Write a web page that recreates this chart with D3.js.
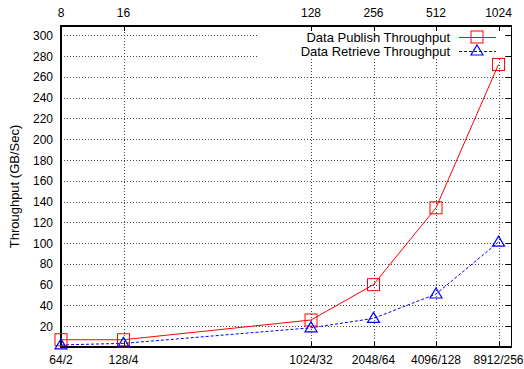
<!DOCTYPE html>
<html>
<head>
<meta charset="utf-8">
<script src="https://cdn.jsdelivr.net/npm/d3@7"></script>
<style>
	body { margin: 0; background: #fff; }
	text { font-family: "Liberation Sans", Arial, sans-serif; }
</style>
</head>
<body>
<div id="chart"></div>
<script>
// chart values
const topTicks = [8, 16, 128, 256, 512, 1024]
const bottomLabels = ["64/2", "128/4", "1024/32", "2048/64", "4096/128", "8912/256"]
const yTicks = [20, 40, 60, 80, 100, 120, 140, 160, 180, 200, 220, 240, 260, 280, 300]
const publish = [7, 7, 26, 60, 134, 272]
const retrieve = [2, 3.5, 18.5, 27.5, 51, 101]
const seriesNames = ["Data Publish Throughput", "Data Retrieve Throughput"]

const params = {
	width: 524, height: 369,
	left: 61, right: 511, top: 26, bottom: 347
}

const makeContainer = (params) => {
	return d3.select("#chart")
		.append("svg")
		.attr("width", params.width)
		.attr("height", params.height)
}

const makeScales = (params) => {
	const xScale = d3.scaleLog().base(2)
		.domain([8, 1176])
		.range([params.left, params.right])
	const yScale = d3.scaleLinear()
		.domain([0, 309])
		.range([params.bottom, params.top])
	return [xScale, yScale]
}

const addGrid = (svg, xScale, yScale, params) => {
	const grid = svg.append("g")
		.attr("stroke", "#444")
		.attr("stroke-width", 1)
		.attr("stroke-dasharray", "1,2")

	grid.selectAll(".hg")
		.data(yTicks)
		.join("line")
		.attr("x1", params.left)
		.attr("x2", params.right)
		.attr("y1", d => Math.round(yScale(d)) + 0.5)
		.attr("y2", d => Math.round(yScale(d)) + 0.5)

	grid.selectAll(".vg")
		.data(topTicks.slice(1))
		.join("line")
		.attr("x1", d => Math.round(xScale(d)) + 0.5)
		.attr("x2", d => Math.round(xScale(d)) + 0.5)
		.attr("y1", params.top)
		.attr("y2", params.bottom)

	// key area hides the grid
	svg.append("rect")
		.attr("x", 258)
		.attr("y", params.top + 1)
		.attr("width", 247)
		.attr("height", 31)
		.attr("fill", "#fff")
}

const addAxes = (svg, xScale, yScale, params) => {
	const ticks = svg.append("g").attr("stroke", "#000").attr("stroke-width", 1)
	// mirror ticks, pointing inward
	ticks.selectAll(".ry")
		.data(yTicks)
		.join("line")
		.attr("x1", params.right - 5)
		.attr("x2", params.right)
		.attr("y1", d => Math.round(yScale(d)) + 0.5)
		.attr("y2", d => Math.round(yScale(d)) + 0.5)
	ticks.selectAll(".tx")
		.data(topTicks)
		.join("line")
		.attr("x1", d => Math.round(xScale(d)) + 0.5)
		.attr("x2", d => Math.round(xScale(d)) + 0.5)
		.attr("y1", params.top)
		.attr("y2", params.top + 5)
	ticks.selectAll(".bx")
		.data(topTicks)
		.join("line")
		.attr("x1", d => Math.round(xScale(d)) + 0.5)
		.attr("x2", d => Math.round(xScale(d)) + 0.5)
		.attr("y1", params.bottom - 5)
		.attr("y2", params.bottom)

	// border
	svg.append("line").attr("stroke", "#000").attr("stroke-width", 2)
		.attr("x1", params.left).attr("x2", params.right + 1)
		.attr("y1", params.top).attr("y2", params.top)
	svg.append("line").attr("stroke", "#000").attr("stroke-width", 2)
		.attr("x1", params.left).attr("x2", params.right + 1)
		.attr("y1", params.bottom).attr("y2", params.bottom)
	svg.append("line").attr("stroke", "#000").attr("stroke-width", 2)
		.attr("x1", params.left).attr("x2", params.left)
		.attr("y1", params.top - 1).attr("y2", params.bottom + 1)
	svg.append("line").attr("stroke", "#000").attr("stroke-width", 1)
		.attr("x1", params.right + 0.5).attr("x2", params.right + 0.5)
		.attr("y1", params.top).attr("y2", params.bottom)

	svg.append("g")
		.selectAll("text")
		.data(yTicks)
		.join("text")
		.attr("x", 53)
		.attr("y", d => yScale(d) + 4.5)
		.attr("text-anchor", "end")
		.attr("font-size", 12)
		.text(d => d)

	svg.append("g")
		.selectAll("text")
		.data(topTicks)
		.join("text")
		.attr("x", d => xScale(d))
		.attr("y", 17)
		.attr("text-anchor", "middle")
		.attr("font-size", 12)
		.text(d => d)

	svg.append("g")
		.selectAll("text")
		.data(bottomLabels)
		.join("text")
		.attr("x", (d, i) => xScale(topTicks[i]))
		.attr("y", 364)
		.attr("text-anchor", "middle")
		.attr("font-size", 12)
		.text(d => d)

	svg.append("text")
		.attr("transform", `translate(19, ${(params.top + params.bottom) / 2}) rotate(-90)`)
		.attr("text-anchor", "middle")
		.attr("font-size", 13)
		.text("Throughput (GB/Sec)")
}

const square = (g, x, y) => g.append("rect")
	.attr("x", x - 6).attr("y", y - 6)
	.attr("width", 12).attr("height", 12)
	.attr("fill", "none").attr("stroke", "#f00").attr("stroke-width", 1)

const triangle = (g, x, y) => g.append("path")
	.attr("d", `M${x},${y - 6}L${x + 6},${y + 4}L${x - 6},${y + 4}Z`)
	.attr("fill", "none").attr("stroke", "#00f").attr("stroke-width", 1.2)

const makeLines = (svg, xScale, yScale, params) => {
	const line = d3.line()
		.x((d, i) => xScale(topTicks[i]))
		.y(d => yScale(d))

	svg.append("path")
		.attr("d", line(retrieve))
		.attr("fill", "none")
		.attr("stroke", "#00f")
		.attr("stroke-width", 1)
		.attr("stroke-dasharray", "3,2")
	svg.append("path")
		.attr("d", line(publish))
		.attr("fill", "none")
		.attr("stroke", "#f00")
		.attr("stroke-width", 1)

	const marks = svg.append("g")
	publish.forEach((d, i) => square(marks, xScale(topTicks[i]), yScale(d)))
	retrieve.forEach((d, i) => triangle(marks, xScale(topTicks[i]), yScale(d)))

	// key
	const key = svg.append("g").attr("font-size", 13)
	const rows = [37, 51]
	seriesNames.forEach((name, i) => {
		key.append("text")
			.attr("x", 450)
			.attr("y", rows[i] + 4.5)
			.attr("text-anchor", "end")
			.text(name)
		key.append("line")
			.attr("x1", 459).attr("x2", 496)
			.attr("y1", rows[i] + 0.5).attr("y2", rows[i] + 0.5)
			.attr("stroke", i ? "#00f" : "#f00")
			.attr("stroke-width", 1)
			.attr("stroke-dasharray", i ? "3,2" : null)
		if (i) triangle(key, 477, rows[i])
		else square(key, 477, rows[i])
	})
}

const main = () => {
	const svg = makeContainer(params)
	const [xScale, yScale] = makeScales(params)
	addGrid(svg, xScale, yScale, params)
	addAxes(svg, xScale, yScale, params)
	makeLines(svg, xScale, yScale, params)
}

main()
</script>
</body>
</html>
